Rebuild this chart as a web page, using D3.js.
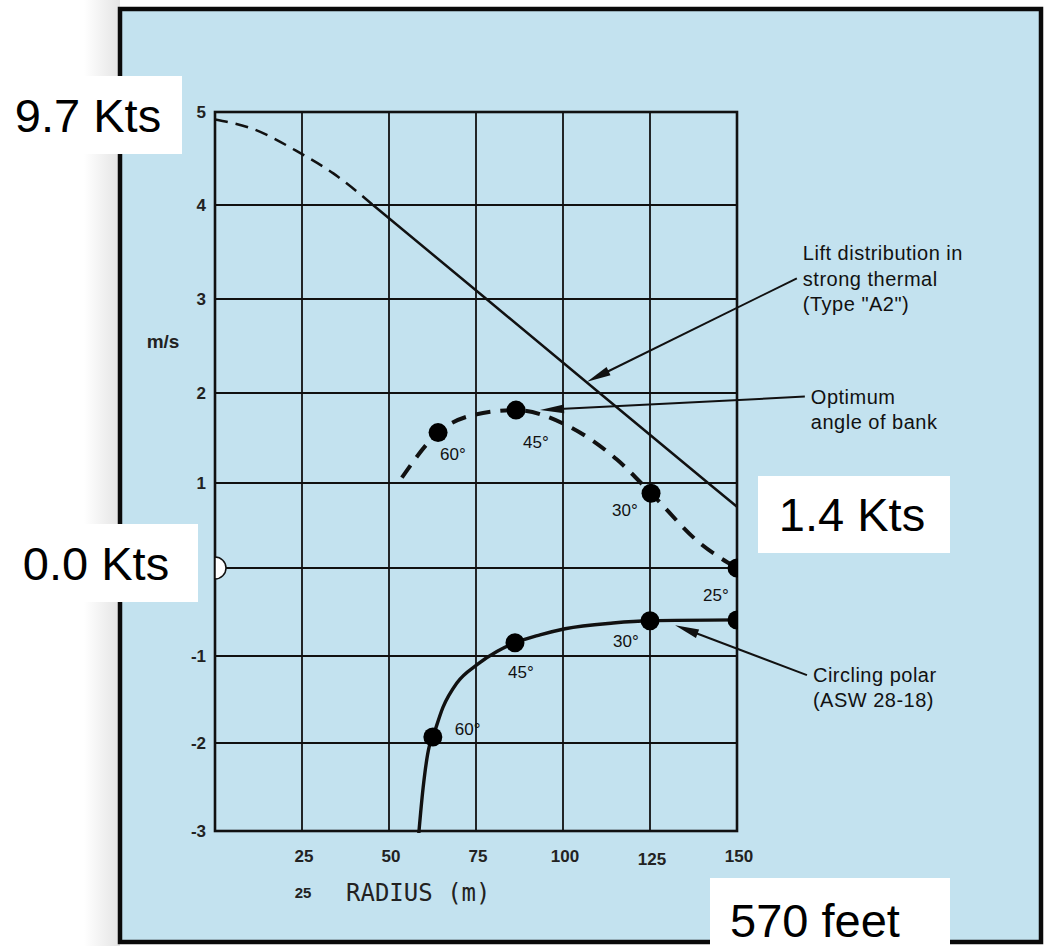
<!DOCTYPE html>
<html>
<head>
<meta charset="utf-8">
<script src="https://cdn.jsdelivr.net/npm/d3@7"></script>
<style>
  body { margin: 0; background: #fff; }
  svg { display: block; }
</style>
</head>
<body>
<div class="chart"></div>
<script>
// radius in metres, climb in m/s
const radiusTicks = [25, 50, 75, 100, 125, 150]
const climbTicks = [-3, -2, -1, 0, 1, 2, 3, 4, 5]
const climbGrid = [-2, -1, 0, 1, 2, 3, 4]
const radiusGrid = [25, 50, 75, 100, 125]

// lift distribution in strong thermal (Type "A2")
const thermalDashed = [[0, 4.92], [10, 4.83], [24.4, 4.56], [34, 4.34], [45.4, 4.0]]
const thermalSolid = [[45.4, 4.0], [78, 3.0], [110.5, 2.0], [141.7, 1.0], [150, 0.72]]

// optimum angle of bank
const optimumCurve = [
  [53.7, 1.06], [64.1, 1.56], [74.7, 1.76], [86.5, 1.81], [101.1, 1.64],
  [115.5, 1.26], [125.3, 0.88], [139.4, 0.29], [150, 0.0]
]
const optimumDots = [[64.1, 1.56], [86.5, 1.81], [125.3, 0.88], [150, 0.0]]
const optimumBanks = ['60°', '45°', '30°', '25°']

// circling polar (ASW 28-18)
const polarCurve = [
  [58.4, -3.1], [59.8, -2.51], [61.5, -2.05], [62.6, -1.93], [65.5, -1.59],
  [69.5, -1.31], [75.3, -1.1], [81.0, -0.95], [86.2, -0.85], [93.4, -0.76],
  [100.6, -0.69], [114.4, -0.625], [125, -0.6], [150, -0.59]
]
const polarDots = [[62.6, -1.93], [86.2, -0.85], [125, -0.6], [150, -0.59]]
const polarBanks = ['60°', '45°', '30°', '']

// leader lines: [text end, arrow tip] in chart units
const leaders = [
  { from: [167.2, 3.22], to: [106.9, 2.12], lines: ['Lift distribution in', 'strong thermal', '(Type "A2")'] },
  { from: [169.5, 1.96], to: [93.4, 1.81], lines: ['Optimum', 'angle of bank'] },
  { from: [170.1, -1.22], to: [132.2, -0.65], lines: ['Circling polar', '(ASW 28-18)'] }
]

const speedLabels = ['9.7 Kts', '0.0 Kts', '1.4 Kts', '570 feet']

;(function draw() {
  const width = 1046
  const height = 946
  const blue = '#c3e2ef'
  const ink = '#111'
  const sans = "'Liberation Sans', Arial, sans-serif"

  const x = d3.scaleLinear().domain([0, 150]).range([215, 737])
  // the scanned grid is not evenly spaced, so map each grid line
  const y = d3.scaleLinear()
    .domain(climbTicks)
    .range([831, 743, 656, 568, 483, 393, 299, 205, 112])

  const svg = d3.select('.chart').append('svg')
    .attr('width', width)
    .attr('height', height)

  const defs = svg.append('defs')
  const grad = defs.append('linearGradient').attr('id', 'shade')
  grad.append('stop').attr('offset', '0%').attr('stop-color', '#fff')
  grad.append('stop').attr('offset', '100%').attr('stop-color', '#e4e4e4')
  defs.append('clipPath').attr('id', 'plot')
    .append('rect')
    .attr('x', x(0)).attr('y', y(5) - 2)
    .attr('width', x(150) - x(0) + 1)
    .attr('height', y(-3) - y(5) + 4)

  svg.append('rect').attr('width', width).attr('height', height).attr('fill', '#fff')
  svg.append('rect').attr('x', 84).attr('y', 0).attr('width', 36).attr('height', height)
    .attr('fill', 'url(#shade)')

  // page panel
  svg.append('rect')
    .attr('x', 120).attr('y', 9)
    .attr('width', 921).attr('height', 933)
    .attr('fill', blue)
    .attr('stroke', '#0a0a0a')
    .attr('stroke-width', 4.5)

  // grid
  const g = svg.append('g')
  g.selectAll('.hgrid').data(climbGrid).join('line')
    .attr('x1', x(0)).attr('x2', x(150))
    .attr('y1', (d) => y(d)).attr('y2', (d) => y(d))
    .attr('stroke', ink).attr('stroke-width', 2)
  g.selectAll('.vgrid').data(radiusGrid).join('line')
    .attr('x1', (d) => x(d)).attr('x2', (d) => x(d))
    .attr('y1', y(5)).attr('y2', y(-3))
    .attr('stroke', ink).attr('stroke-width', 1.8)
  g.append('rect')
    .attr('x', x(0)).attr('y', y(5))
    .attr('width', x(150) - x(0)).attr('height', y(-3) - y(5))
    .attr('fill', 'none').attr('stroke', ink).attr('stroke-width', 2.6)

  // zero marker
  g.append('path')
    .attr('d', d3.arc()({ innerRadius: 0, outerRadius: 11, startAngle: 0, endAngle: Math.PI }))
    .attr('transform', `translate(${x(0)},${y(0)})`)
    .attr('fill', '#fff').attr('stroke', ink).attr('stroke-width', 1.5)

  // axis labels (the 0 label sits under the white callout)
  g.selectAll('.ytick').data(climbTicks.filter((d) => d !== 0)).join('text')
    .attr('x', 206).attr('y', (d) => y(d))
    .attr('dy', '0.36em')
    .attr('text-anchor', 'end')
    .attr('font-family', sans).attr('font-weight', 'bold').attr('font-size', 17)
    .attr('fill', '#222')
    .text((d) => d)
  g.append('text')
    .attr('x', 163).attr('y', y(2.55))
    .attr('dy', '0.36em')
    .attr('text-anchor', 'middle')
    .attr('font-family', sans).attr('font-weight', 'bold').attr('font-size', 19)
    .attr('fill', '#222')
    .text('m/s')
  g.selectAll('.xtick').data(radiusTicks).join('text')
    .attr('x', (d) => x(d) + 2).attr('y', (d) => (d === 125 ? 865 : 862))
    .attr('text-anchor', 'middle')
    .attr('font-family', sans).attr('font-weight', 'bold').attr('font-size', 17)
    .attr('fill', '#222')
    .text((d) => d)
  g.append('text')
    .attr('x', x(25) + 1).attr('y', 898)
    .attr('text-anchor', 'middle')
    .attr('font-family', sans).attr('font-weight', 'bold').attr('font-size', 15)
    .attr('fill', '#222')
    .text('25')
  g.append('text')
    .attr('x', 346).attr('y', 901)
    .attr('font-family', "'DejaVu Sans Mono', monospace").attr('font-size', 24)
    .attr('fill', '#222')
    .text('RADIUS (m)')

  // curves
  const line = d3.line().x((d) => x(d[0])).y((d) => y(d[1]))
  const smooth = d3.line().x((d) => x(d[0])).y((d) => y(d[1])).curve(d3.curveMonotoneX)
  const curves = g.append('g').attr('clip-path', 'url(#plot)')

  curves.append('path').datum(thermalDashed)
    .attr('d', smooth)
    .attr('fill', 'none').attr('stroke', ink).attr('stroke-width', 2.5)
    .attr('stroke-dasharray', '13 8')
  curves.append('path').datum(thermalSolid)
    .attr('d', line)
    .attr('fill', 'none').attr('stroke', ink).attr('stroke-width', 2.5)

  curves.append('path').datum(optimumCurve)
    .attr('d', smooth)
    .attr('fill', 'none').attr('stroke', ink).attr('stroke-width', 4)
    .attr('stroke-dasharray', '15 10')
  curves.append('path').datum(polarCurve)
    .attr('d', smooth)
    .attr('fill', 'none').attr('stroke', ink).attr('stroke-width', 3.4)

  curves.selectAll('.dot').data(optimumDots.concat(polarDots)).join('circle')
    .attr('cx', (d) => x(d[0])).attr('cy', (d) => y(d[1]))
    .attr('r', 9.5)
    .attr('fill', '#000')

  // bank angle labels (offsets from their dots, in px)
  const optimumOffsets = [[2, 27], [7, 38], [-39, 23], [-34, 33]]
  const polarOffsets = [[22, -2], [-7, 35], [-37, 26], [0, 0]]
  const bankLabels = optimumDots.map((d, i) => ({ p: d, t: optimumBanks[i], o: optimumOffsets[i] }))
    .concat(polarDots.map((d, i) => ({ p: d, t: polarBanks[i], o: polarOffsets[i] })))
  g.selectAll('.bank').data(bankLabels).join('text')
    .attr('x', (d) => x(d.p[0]) + d.o[0])
    .attr('y', (d) => y(d.p[1]) + d.o[1])
    .attr('font-family', sans).attr('font-size', 17)
    .attr('fill', '#111')
    .text((d) => d.t)

  // leaders with arrowheads
  leaders.forEach((l, i) => {
    const x1 = x(l.from[0]), y1 = y(l.from[1])
    const x2 = x(l.to[0]), y2 = y(l.to[1])
    const len = Math.hypot(x2 - x1, y2 - y1)
    const ux = (x2 - x1) / len, uy = (y2 - y1) / len
    const head = 24, half = 4.5
    g.append('line')
      .attr('x1', x1).attr('y1', y1)
      .attr('x2', x2 - ux * head * 0.8).attr('y2', y2 - uy * head * 0.8)
      .attr('stroke', ink).attr('stroke-width', 2)
    const bx = x2 - ux * head, by = y2 - uy * head
    g.append('path')
      .attr('d', `M${x2},${y2}L${bx - uy * half},${by + ux * half}L${bx + uy * half},${by - ux * half}Z`)
      .attr('fill', ink)
    const firstLine = i === 0 ? -25 : 0
    g.append('text')
      .attr('x', x1 + 6).attr('y', y1 + firstLine)
      .attr('font-family', sans).attr('font-size', 20)
      .attr('letter-spacing', 0.5)
      .attr('fill', '#111')
      .selectAll('tspan').data(l.lines).join('tspan')
      .attr('x', x1 + 6)
      .attr('dy', (d, j) => (j === 0 ? '0.35em' : '1.26em'))
      .text((d) => d)
  })

  // white callout boxes
  const boxes = [
    { x: 0, y: 76, w: 182, h: 78 },
    { x: 0, y: 524, w: 198, h: 78 },
    { x: 758, y: 476, w: 192, h: 77 },
    { x: 710, y: 878, w: 240, h: 68 }
  ]
  const callouts = svg.append('g')
  boxes.forEach((b, i) => {
    callouts.append('rect')
      .attr('x', b.x).attr('y', b.y).attr('width', b.w).attr('height', b.h)
      .attr('fill', '#fff')
    callouts.append('text')
      .attr('x', i === 3 ? b.x + 20 : b.x + b.w / 2 + (i < 2 ? -3 : -2))
      .attr('y', b.y + b.h / 2 + (i === 3 ? 8 : 0))
      .attr('dy', '0.36em')
      .attr('text-anchor', i === 3 ? 'start' : 'middle')
      .attr('font-family', sans).attr('font-size', 47)
      .attr('fill', '#000')
      .text(speedLabels[i])
  })
})()
</script>
</body>
</html>
